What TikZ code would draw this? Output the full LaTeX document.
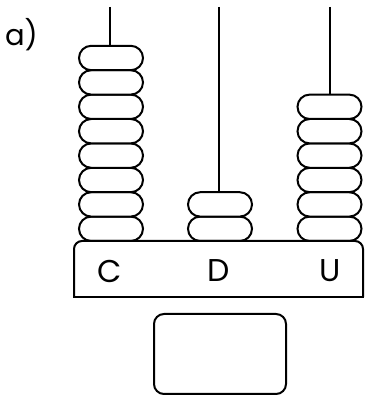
\documentclass[tikz,border=0pt]{standalone}
\usepackage{fontspec}
\setmainfont{Poppins}
\newcommand{\abfont}{\fontsize{29}{34}\selectfont}
\newcommand{\cdufont}{\fontsize{31.5}{36}\selectfont}
\begin{document}
\begin{tikzpicture}[line width=2pt,x=1pt,y=1pt,bead/.style={draw,fill=white,rounded corners=12.2pt}]
          \useasboundingbox (0,0) rectangle (365,398);
          \node (tag) at (21.5,363) {\abfont a)};
          \draw (110,391)--(110,157) (219,391)--(219,157) (330,391)--(330,157);
          \foreach \n/\xc in {8/111,2/220,6/329.5}
            \foreach \k in {1,...,\n}
              \draw[bead] (\xc-32,{157+(\k-1)*24.4}) rectangle ++(64,24.4);
          \draw[rounded corners=8pt] (74,101)--(74,157)--(363,157)--(363,101);
          \draw[line cap=rect] (74,101)--(363,101);
          \node (c) at (110,127) {\cdufont C};
          \node (d) at (219,127) {\cdufont D};
          \node (u) at (330,127) {\cdufont U};
          \node[draw,rounded corners=10pt,minimum width=132pt,minimum height=80pt] (answer) at (220,44) {};
      \end{tikzpicture}
\end{document}
